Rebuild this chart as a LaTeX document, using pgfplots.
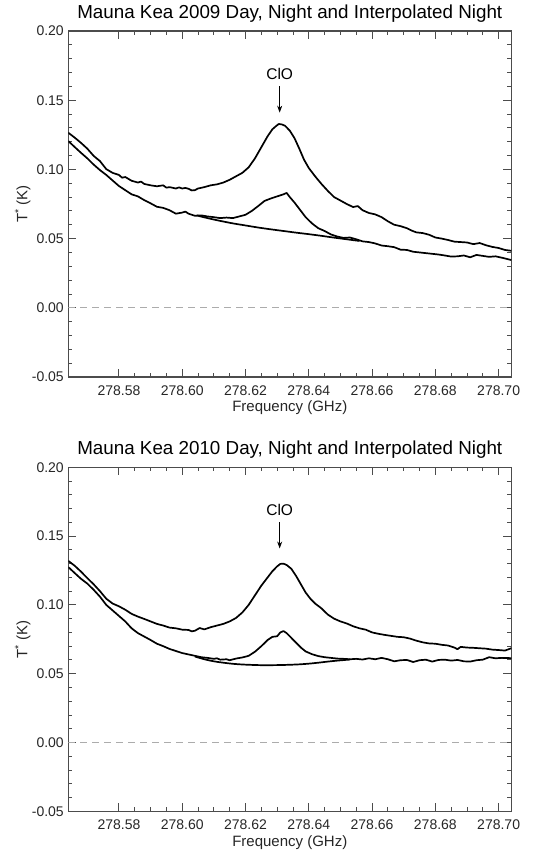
\documentclass[border=0pt]{standalone}
\usepackage{fontspec}
\setmainfont{Liberation Sans}
\usepackage{pgfplots}
\pgfplotsset{compat=1.18}
\usetikzlibrary{arrows.meta}

% Frequencies stored as MHz above 278.500 GHz (x = (f - 278.5 GHz) * 1000)
\pgfplotsset{
  spec/.style={
    scale only axis, width=443pt,
    xmin=64, xmax=204, ymin=-0.05, ymax=0.20,
    xtick={80,100,120,140,160,180,200},
    xticklabels={278.58,278.60,278.62,278.64,278.66,278.68,278.70},
    minor x tick num=3,
    ytick={-0.05,0,0.05,0.10,0.15,0.20},
    minor y tick num=4,
    /pgf/number format/assume math mode=true,
    yticklabel style={/pgf/number format/fixed,/pgf/number format/fixed zerofill,/pgf/number format/precision=2},
    tick label style={font=\fontsize{14}{16}\selectfont, black!85},
    xticklabel style={yshift=-5pt},
    yticklabel style={xshift=-1pt},
    axis line style={draw=black!70, line width=1.1pt},
    major tick style={draw=black!70, line width=0.9pt},
    minor tick style={draw=black!70, line width=0.9pt},
    major tick length=8pt, minor tick length=4pt,
    tick align=inside,
    xlabel={Frequency (GHz)},
    ylabel={T\textsuperscript{*} (K)},
    label style={font=\fontsize{15}{17}\selectfont, black!85},
    xlabel style={at={(axis description cs:0.5,-0.101)}, anchor=base},
    ylabel style={at={(axis description cs:-0.0925,0.5)}, anchor=base},
    title style={font=\fontsize{18.8}{21}\selectfont, at={(axis description cs:0.5,1.018)}, anchor=base},
    curve/.style={black, line width=1.7pt, line join=round},
  }
}

\begin{document}
\begin{tikzpicture}
\path[use as bounding box] (-68.3pt,31pt) rectangle (467.7pt,-820pt);

% ---------------- 2009 ----------------
\begin{axis}[spec, height=346pt, at={(0pt,0pt)}, anchor=north west,
  title={Mauna Kea 2009 Day, Night and Interpolated Night}]
\addplot[gray!65, dash pattern=on 7pt off 5pt, line width=0.8pt] coordinates {(64,0) (204,0)};
% Day
\addplot[curve] coordinates {
(64,0.1265) (66,0.1230) (68,0.1192) (70,0.1150) (72,0.1098) (74,0.1060) (76,0.1002) (78,0.0975)
(80,0.0960) (81,0.0940) (82,0.0945) (84,0.0918) (86,0.0905) (87,0.0912) (88,0.0895) (90,0.0885)
(92,0.0878) (94,0.0885) (95,0.0868) (96,0.0872) (98,0.0862) (99,0.0870) (100,0.0862) (101,0.0866)
(102,0.0860) (103,0.0848) (104,0.0850) (105,0.0862) (107,0.0872) (109,0.0885) (111,0.0892)
(113,0.0905) (115,0.0925) (117,0.0950) (119,0.0975) (121,0.1015) (123,0.1080) (125,0.1160)
(127,0.1240) (128.5,0.1290) (129.5,0.1310) (130.5,0.1328) (131.5,0.1325) (132.5,0.1315)
(134,0.1280) (135.5,0.1225) (137,0.1150) (138.5,0.1070) (140,0.1010) (142,0.0950) (144,0.0895)
(146,0.0845) (148,0.0800) (150,0.0775) (152,0.0750) (154,0.0728) (155.5,0.0735) (157,0.0705)
(159,0.0685) (161,0.0675) (163,0.0655) (165,0.0625) (167,0.0600) (169,0.0590) (171,0.0575)
(172.5,0.0558) (174,0.0545) (176,0.0540) (178,0.0528) (180,0.0508) (182,0.0500) (184,0.0490)
(186,0.0478) (188,0.0475) (190,0.0472) (192,0.0460) (194,0.0468) (196,0.0452) (198,0.0440)
(200,0.0432) (202,0.0418) (204,0.0412)
};
% Night
\addplot[curve] coordinates {
(64,0.1205) (66,0.1162) (68,0.1120) (70,0.1080) (72,0.1035) (74,0.0995) (76,0.0960) (78,0.0920)
(80,0.0880) (82,0.0850) (84,0.0820) (86,0.0805) (88,0.0778) (90,0.0755) (92,0.0730) (94,0.0722)
(96,0.0705) (98,0.0680) (100,0.0688) (101,0.0695) (102,0.0680) (104,0.0665) (106,0.0668)
(108,0.0660) (110,0.0655) (112,0.0648) (114,0.0652) (116,0.0648) (118,0.0660) (120,0.0672)
(122,0.0700) (124,0.0735) (126,0.0772) (128,0.0790) (130,0.0805) (132,0.0820) (133,0.0830)
(134,0.0800) (135.5,0.0760) (137,0.0715) (139,0.0655) (141,0.0610) (143,0.0575) (145,0.0555)
(147,0.0530) (149,0.0515) (151,0.0505) (153,0.0508) (155,0.0495) (157,0.0480) (159,0.0475)
(161,0.0465) (163,0.0450) (165,0.0445) (167,0.0438) (169,0.0420) (171,0.0418) (173,0.0405)
(175,0.0400) (177,0.0395) (179,0.0390) (181,0.0385) (183,0.0378) (185,0.0370) (187,0.0372)
(189,0.0378) (191,0.0365) (193,0.0382) (195,0.0375) (197,0.0368) (199,0.0372) (201,0.0362)
(204,0.0345)
};
% Interpolated night
\addplot[curve, smooth] coordinates {
(104.5,0.0668) (108,0.0648) (112,0.0628) (116,0.0610) (120,0.0595) (124,0.0580) (128,0.0567)
(132,0.0555) (136,0.0543) (140,0.0532) (144,0.0520) (148,0.0507) (152,0.0495) (156,0.0483)
};
\draw[-{Stealth[length=7pt,width=5pt]}, line width=0.8pt] (axis cs:130.8,0.160) -- (axis cs:130.8,0.1410);
\node[font=\fontsize{15.5}{17}\selectfont] at (axis cs:130.8,0.1687) {ClO};
\end{axis}

% ---------------- 2010 ----------------
\begin{axis}[spec, height=344pt, at={(0pt,-436.3pt)}, anchor=north west,
  title={Mauna Kea 2010 Day, Night and Interpolated Night},
  xlabel style={at={(axis description cs:0.5,-0.102)}},
  ylabel style={at={(axis description cs:-0.0925,0.5)}},
  title style={at={(axis description cs:0.5,1.019)}}]
\addplot[gray!65, dash pattern=on 7pt off 5pt, line width=0.8pt] coordinates {(64,0) (204,0)};
% Day
\addplot[curve] coordinates {
(64,0.1320) (66,0.1285) (68,0.1242) (70,0.1195) (72,0.1150) (74,0.1100) (76,0.1045) (78,0.1010)
(80,0.0990) (82,0.0965) (84,0.0935) (86,0.0915) (88,0.0898) (90,0.0880) (92,0.0862) (94,0.0850)
(96,0.0835) (98,0.0830) (100,0.0820) (102,0.0818) (103,0.0808) (104,0.0812) (105.5,0.0832)
(107,0.0822) (109,0.0838) (111,0.0850) (113,0.0862) (115,0.0880) (117,0.0905) (119,0.0945)
(121,0.1000) (123,0.1070) (125,0.1140) (127,0.1200) (128.5,0.1245) (130,0.1280) (131,0.1298)
(132,0.1300) (133,0.1290) (134.5,0.1262) (136,0.1210) (137.5,0.1150) (139,0.1090) (140.5,0.1045)
(142,0.1010) (144,0.0975) (146,0.0930) (148,0.0900) (150,0.0880) (152,0.0865) (154,0.0845)
(156,0.0830) (158,0.0820) (160,0.0800) (162,0.0790) (164,0.0782) (166,0.0775) (168,0.0768)
(170,0.0765) (172,0.0755) (174,0.0740) (176,0.0728) (178,0.0720) (180,0.0718) (182,0.0710)
(184,0.0705) (186,0.0690) (187,0.0678) (188,0.0695) (190,0.0690) (192,0.0688) (194,0.0685)
(196,0.0682) (198,0.0675) (200,0.0672) (202,0.0668) (204,0.0685)
};
% Night
\addplot[curve] coordinates {
(64,0.1275) (66,0.1232) (68,0.1190) (70,0.1155) (72,0.1110) (74,0.1060) (76,0.1000) (78,0.0960)
(80,0.0920) (82,0.0880) (84,0.0830) (86,0.0795) (88,0.0770) (90,0.0745) (92,0.0718) (94,0.0700)
(96,0.0680) (98,0.0665) (100,0.0650) (102,0.0640) (104,0.0630) (106,0.0620) (108,0.0615)
(110,0.0608) (111,0.0612) (112,0.0602) (114,0.0605) (115,0.0598) (117,0.0610) (119,0.0618)
(121,0.0630) (123,0.0660) (125,0.0700) (127,0.0745) (128.5,0.0768) (130,0.0772) (131,0.0800)
(132,0.0810) (133,0.0795) (134.5,0.0760) (136,0.0725) (137.5,0.0690) (139,0.0662) (141,0.0642)
(143,0.0628) (145,0.0620) (147,0.0615) (149,0.0610) (151,0.0608) (153,0.0605) (155,0.0608)
(157,0.0603) (159,0.0612) (161,0.0605) (163,0.0615) (165,0.0605) (167,0.0590) (169,0.0598)
(171,0.0600) (173,0.0585) (175,0.0598) (177,0.0602) (179,0.0588) (181,0.0600) (183,0.0602)
(185,0.0595) (187,0.0600) (189,0.0590) (191,0.0588) (193,0.0598) (195,0.0602) (197,0.0620)
(199,0.0612) (201,0.0615) (204,0.0613)
};
% Interpolated night
\addplot[curve, smooth] coordinates {
(104,0.0625) (107,0.0605) (110,0.0590) (113,0.0580) (116,0.0572) (119,0.0567) (122,0.0564)
(125,0.0562) (128,0.0562) (131,0.0563) (134,0.0565) (137,0.0568) (140,0.0573) (143,0.0580)
(146,0.0588) (149,0.0595) (153,0.0603)
};
\draw[-{Stealth[length=7pt,width=5pt]}, line width=0.8pt] (axis cs:130.8,0.160) -- (axis cs:130.8,0.1410);
\node[font=\fontsize{15.5}{17}\selectfont] at (axis cs:130.8,0.1687) {ClO};
\end{axis}
\end{tikzpicture}
\end{document}
